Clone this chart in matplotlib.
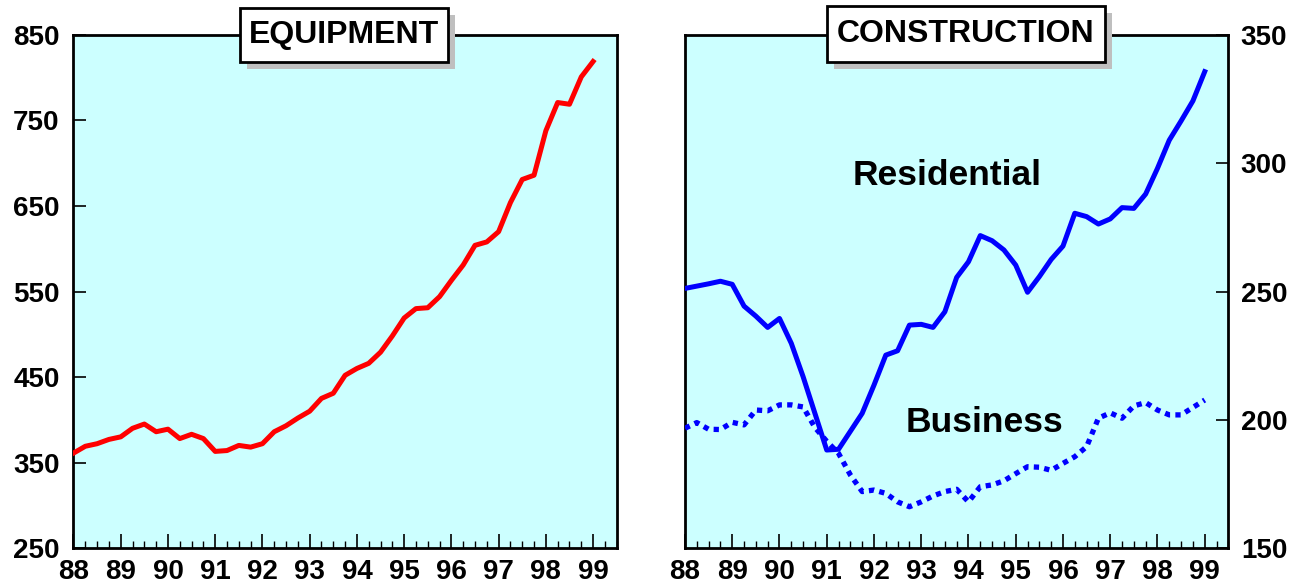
import numpy as np
import matplotlib
matplotlib.use("Agg")
import matplotlib.pyplot as plt
from matplotlib.ticker import MultipleLocator
from matplotlib.patches import Rectangle

plt.rcParams['font.family'] = ['Liberation Sans', 'DejaVu Sans']

# ---- data (quarterly, 1988Q1 .. 1999Q1) ----
quarters = np.arange(88.0, 99.001, 0.25)
year_ticks = list(range(88, 100))
year_labels = ['88', '89', '90', '91', '92', '93', '94', '95', '96', '97', '98', '99']

equipment = [361, 369, 372, 377, 380, 390, 395, 386, 389, 378, 383, 378,
             363, 364, 370, 368, 372, 386, 393, 402, 410, 425, 431, 452,
             460, 466, 479, 498, 519, 530, 531, 544, 563, 581, 604, 608,
             620, 654, 681, 686, 738, 771, 769, 801, 819]

residential = [251.2, 252.1, 253.0, 254.0, 252.8, 244.3, 240.4, 236.0, 239.5,
               229.8, 216.8, 202.5, 188.2, 188.5, 195.5, 202.5, 213.5, 225.2,
               226.9, 236.9, 237.2, 236.0, 242.1, 255.5, 261.6, 271.8, 269.8,
               266.2, 260.3, 249.7, 255.8, 262.5, 267.7, 280.5, 279.2, 276.3,
               278.3, 282.7, 282.4, 288.0, 298.0, 309.0, 316.5, 324.3, 335.7]

business = [196.7, 198.9, 196.3, 196.2, 199.0, 198.0, 203.8, 203.5, 205.8,
            205.8, 205.0, 197.0, 191.6, 186.9, 178.5, 172.0, 172.6, 171.3,
            168.0, 166.1, 168.0, 170.3, 172.0, 172.9, 168.0, 173.9, 174.6,
            176.2, 179.0, 181.7, 181.5, 180.3, 183.0, 185.6, 189.5, 200.6,
            202.7, 200.6, 205.4, 206.7, 203.8, 201.9, 201.9, 204.8, 207.7]

left_yticks = [250, 350, 450, 550, 650, 750, 850]
right_yticks = [150, 200, 250, 300, 350]

W, H = 1303, 587
BG = '#CCFFFF'
fig = plt.figure(figsize=(W / 100, H / 100), dpi=100)
axL = fig.add_axes([0.0564, 0.0664, 0.4169, 0.874])
axR = fig.add_axes([0.5257, 0.0664, 0.4170, 0.874])

for ax in (axL, axR):
    ax.set_facecolor(BG)
    ax.set_xlim(88, 99.5)
    ax.xaxis.set_minor_locator(MultipleLocator(0.25))
    ax.set_xticks(year_ticks)
    ax.set_xticklabels(year_labels)
    for s in ax.spines.values():
        s.set_linewidth(2)
        s.set_color('black')
    ax.tick_params(axis='x', which='major', direction='in', length=10, width=1.2,
                   labelsize=20, pad=8, top=False)
    ax.tick_params(axis='x', which='minor', direction='in', length=5, width=1.0, top=False)
    for lbl in ax.get_xticklabels():
        lbl.set_fontweight('bold')

# Left panel
axL.plot(quarters, equipment, color='#FF0000', lw=3.6, zorder=3)
axL.set_ylim(250, 850)
axL.set_yticks(left_yticks)
axL.set_yticklabels([str(v) for v in left_yticks], fontweight='bold')
axL.tick_params(axis='y', direction='in', length=9, width=1.2, labelsize=20, pad=10,
                left=True, right=False)

# Right panel
axR.plot(quarters, residential, color='#0000FF', lw=3.6, zorder=3)
axR.plot(quarters, business, color='#0000FF', lw=3.8, linestyle=(0, (1, 1.0)), zorder=3)
axR.set_ylim(150, 350)
axR.yaxis.tick_right()
axR.set_yticks(right_yticks)
axR.set_yticklabels([str(v) for v in right_yticks], fontweight='bold')
axR.tick_params(axis='y', direction='in', length=9, width=1.2, labelsize=20, pad=9,
                left=False, right=True)

axR.text(0.4825, 0.727, 'Residential', transform=axR.transAxes, ha='center', va='center',
         fontsize=25.5, fontweight='bold', zorder=5)
axR.text(0.551, 0.2456, 'Business', transform=axR.transAxes, ha='center', va='center',
         fontsize=25.5, fontweight='bold', zorder=5)


def title_box(x0, x1, y0, y1, label):
    """Box given in picture pixels (from top-left), with a grey drop shadow."""
    sh = 7
    fig.patches.append(Rectangle(((x0 + sh) / W, 1 - (y1 + sh) / H), (x1 - x0) / W, (y1 - y0) / H,
                                 transform=fig.transFigure, fc='#BFBFBF', ec='none', zorder=8))
    fig.patches.append(Rectangle((x0 / W, 1 - y1 / H), (x1 - x0) / W, (y1 - y0) / H,
                                 transform=fig.transFigure, fc='white', ec='black', lw=2, zorder=9))
    fig.text((x0 + x1) / 2 / W, 1 - (y0 + y1) / 2 / H, label, ha='center', va='center',
             fontsize=23, fontweight='bold', color='black', zorder=10)


title_box(240, 448, 8, 62, 'EQUIPMENT')
title_box(827, 1105, 6, 62, 'CONSTRUCTION')

fig.savefig('out.png', dpi=100)
